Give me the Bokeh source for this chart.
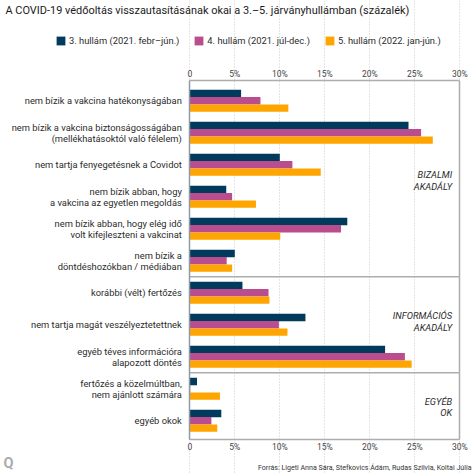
from bokeh.plotting import figure
from bokeh.models import (Range1d, LinearAxis, FixedTicker, Legend, LegendItem, Label,
                          ColumnDataSource, AllLabels)
from bokeh.core.properties import value
from bokeh.transform import dodge
from bokeh.embed import file_html
from bokeh.resources import INLINE

categories = [
    ["nem bízik a vakcina hatékonyságában"],
    ["nem bízik a vakcina biztonságosságában", "(mellékhatásoktól való félelem)"],
    ["nem tartja fenyegetésnek a Covidot"],
    ["nem bízik abban, hogy", "a vakcina az egyetlen megoldás"],
    ["nem bízik abban, hogy elég idő", "volt kifejleszteni a vakcinat"],
    ["nem bízik a", "döntdéshozókban / médiában"],
    ["korábbi (vélt) fertőzés"],
    ["nem tartja magát veszélyeztetettnek"],
    ["egyéb téves információra", "alapozott döntés"],
    ["fertőzés a közelmúltban,", "nem ajánlott számára"],
    ["egyéb okok"],
]
wave3 = [5.7, 24.3, 10.0, 4.05, 17.5, 5.0, 5.85, 12.85, 21.7, 0.8, 3.5]
wave4 = [7.85, 25.7, 11.4, 4.7, 16.8, 4.1, 8.75, 9.9, 23.9, 0.05, 2.4]
wave5 = [10.95, 27.0, 14.55, 7.35, 10.05, 4.7, 8.85, 10.85, 24.65, 3.35, 3.05]
series_names = ["3. hullám (2021. febr–jún.)", "4. hullám (2021. júl-dec.)", "5. hullám (2022. jan-jún.)"]
colors = ["#003a5c", "#b94d8d", "#ffa500"]
x_ticks = [0, 5, 10, 15, 20, 25, 30]
x_tick_labels = ["0", "5%", "10%", "15%", "20%", "25%", "30%"]
group_lines = ["BIZALMI", "AKADÁLY", "INFORMÁCIÓS", "AKADÁLY", "EGYÉB", "OK"]
group_line_pos = [2.31, 2.67, 6.72, 7.08, 9.39, 9.75]
separators = [5.5, 8.5]

TEXT = "#2b2b2b"
FONT = "Roboto"
FRAME = "#adadad"
W, H = 474, 474
PX_X, PX_Y = 9.0, 32.0           # pixels per percent, pixels per category
X0_PX, Y0_PX = 189.3, 100.3      # where x=0 and the first category fall
Y_TOP, Y_BOTTOM = -0.634, 10.59  # plot box limits in category units

p = figure(width=W, height=H, output_backend="svg", toolbar_location=None,
           x_range=Range1d(-X0_PX / PX_X, (W - X0_PX) / PX_X),
           y_range=Range1d((H - Y0_PX) / PX_Y, -Y0_PX / PX_Y),
           min_border=0, min_border_left=0, min_border_right=0, min_border_top=0, min_border_bottom=0)
p.ygrid.visible = False
p.background_fill_color = "white"
p.outline_line_color = None

idx = list(range(len(categories)))
src = ColumnDataSource(dict(idx=idx, w3=wave3, w4=wave4, w5=wave5))
items = []
for col, off, color, name in zip(["w3", "w4", "w5"], [-0.229, 0, 0.229], colors, series_names):
    r = p.hbar(y=dodge("idx", off, range=p.y_range), right=col, left=0, height=0.232,
               color=color, line_color=None, source=src)
    items.append(LegendItem(label=name, renderers=[r]))

p.xgrid.ticker = FixedTicker(ticks=x_ticks)
p.xgrid.bounds = (Y_TOP, Y_BOTTOM)
p.xgrid.grid_line_color = "#c8c8c8"
p.xgrid.grid_line_dash = [1, 2]
p.xgrid.grid_line_width = 1

# one y tick per text line, so that every line is right-aligned
LINE = 0.172
y_ticks, y_over = [], {}
for i, lines in enumerate(categories):
    pos = [i] if len(lines) == 1 else [round(i - LINE, 3), round(i + LINE, 3)]
    for y, t in zip(pos, lines):
        y_ticks.append(y)
        y_over[y] = t
yax = p.yaxis[0]
yax.fixed_location = 0
yax.bounds = (Y_TOP, Y_BOTTOM)
yax.ticker = FixedTicker(ticks=y_ticks)
yax.major_label_overrides = y_over
yax.major_label_policy = AllLabels()
yax.major_tick_line_color = None
yax.major_tick_out = 0
yax.major_tick_in = 0
yax.minor_tick_line_color = None
yax.axis_line_color = "#8f9aa3"
yax.axis_line_width = 1.5
yax.major_label_standoff = 8
yax.major_label_text_font = FONT
yax.major_label_text_font_size = "9.35px"
yax.major_label_text_color = TEXT

right_ax = LinearAxis(fixed_location=30, bounds=(Y_TOP, Y_BOTTOM), ticker=FixedTicker(ticks=[]),
                      axis_line_color=FRAME, axis_line_width=1.5,
                      major_tick_line_color=None, minor_tick_line_color=None)
p.add_layout(right_ax, "right")

overrides = dict(zip(x_ticks, x_tick_labels))
top_axis = LinearAxis(fixed_location=Y_TOP)
p.add_layout(top_axis, "above")
bottom_axis = p.below[0]
bottom_axis.fixed_location = Y_BOTTOM
for ax in [bottom_axis, top_axis]:
    ax.bounds = (0, 30)
    ax.ticker = FixedTicker(ticks=x_ticks)
    ax.major_label_overrides = overrides
    ax.major_tick_line_color = None
    ax.major_tick_out = 0
    ax.major_tick_in = 0
    ax.minor_tick_line_color = None
    ax.axis_line_color = FRAME
    ax.axis_line_width = 1.5
    ax.major_label_standoff = 2
    ax.major_label_text_font = FONT
    ax.major_label_text_font_size = "8.5px"
    ax.major_label_text_color = "#444444"

p.segment(x0=[0] * len(separators), x1=[30] * len(separators), y0=separators, y1=separators,
          line_color=FRAME, line_width=1.5)

gsrc = ColumnDataSource(dict(y=group_line_pos, t=group_lines, x=[29.15] * len(group_lines)))
p.text(x="x", y="y", text="t", source=gsrc, text_align="right", text_baseline="middle",
       text_font=value(FONT), text_font_size=value("9.3px"), text_font_style=value("italic"),
       text_color=TEXT)

legend = Legend(items=items, orientation="horizontal", location=(55, 428), padding=0, margin=0,
                spacing=14, label_standoff=3, glyph_width=11, glyph_height=11,
                label_text_font=FONT, label_text_font_size="9.35px", label_text_color=TEXT,
                label_height=11, background_fill_alpha=0, border_line_color=None)
p.add_layout(legend, "center")

p.add_layout(Label(x=5, y=464, x_units="screen", y_units="screen",
                   text="A COVID-19 védőoltás visszautasításának okai a 3.–5. járványhullámban (százalék)",
                   text_font=FONT, text_font_size="10.95px", text_color="#1a1a1a",
                   text_baseline="middle"))
p.add_layout(Label(x=471, y=7.5, x_units="screen", y_units="screen",
                   text="Forrás: Ligeti Anna Sára, Stefkovics Ádám, Rudas Szilvia, Koltai Júlia",
                   text_font=FONT, text_font_size="7.07px", text_color="#333333",
                   text_align="right", text_baseline="middle"))
p.add_layout(Label(x=3, y=11, x_units="screen", y_units="screen", text="Q",
                   text_font=FONT, text_font_size="14.5px", text_font_style="bold",
                   text_color="#acacac", text_baseline="middle"))

open("out.html", "w").write(file_html(p, INLINE))
